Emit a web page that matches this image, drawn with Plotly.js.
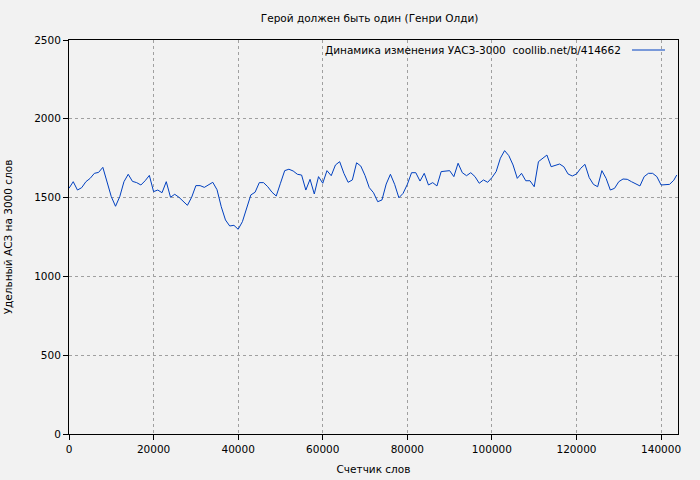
<!DOCTYPE html>
<html>
<head>
<meta charset="utf-8">
<script src="https://cdn.plot.ly/plotly-3.0.1.min.js"></script>
<style>html,body{margin:0;padding:0;background:#f2f2f2;}#chart{width:700px;height:480px;}</style>
</head>
<body>
<div id="chart"></div>
<script>
const chartTitle = "Герой должен быть один (Генри Олди)";
const xTitle = "Счетчик слов";
const yTitle = "Удельный АСЗ на 3000 слов";
const seriesName = "Динамика изменения УАСЗ-3000  coollib.net/b/414662";

const words = [0,1000,2000,3000,4000,5000,6000,7000,8000,9000,
  10000,11000,12000,13000,14000,15000,16000,17000,18000,19000,
  20000,21000,22000,23000,24000,25000,26000,28000,29000,
  30000,31000,32000,33000,34000,35000,36000,37000,38000,39000,
  40000,41000,42000,43000,44000,45000,46000,47000,48000,49000,
  50000,51000,52000,53000,54000,55000,56000,57000,58000,59000,
  60000,61000,62000,63000,64000,65000,66000,67000,68000,69000,
  70000,71000,72000,73000,74000,75000,76000,77000,78000,79000,
  80000,81000,82000,83000,84000,85000,86000,87000,88000,89000,
  90000,91000,92000,93000,94000,95000,96000,97000,98000,99000,
  100000,101000,102000,103000,104000,105000,106000,107000,108000,109000,
  110000,111000,112000,113000,114000,115000,116000,117000,118000,119000,
  120000,121000,122000,123000,124000,125000,126000,127000,128000,129000,
  130000,131000,132000,133000,134000,135000,136000,137000,138000,139000,
  140000,141000,142000,143000,143700];

const uasz = [1559,1601,1548,1563,1601,1622,1654,1660,1692,1601,
  1506,1445,1506,1601,1648,1603,1595,1580,1607,1641,
  1538,1548,1531,1601,1502,1521,1502,1451,1502,
  1576,1576,1565,1580,1597,1550,1442,1358,1320,1324,
  1299,1347,1432,1517,1534,1595,1595,1569,1534,1510,
  1591,1671,1680,1669,1648,1643,1548,1616,1523,1633,
  1591,1671,1639,1707,1728,1654,1597,1612,1721,1700,
  1640,1563,1531,1474,1485,1586,1648,1584,1499,1527,
  1584,1658,1658,1605,1654,1580,1595,1574,1665,1669,
  1671,1633,1718,1658,1639,1658,1633,1591,1612,1597,
  1627,1665,1750,1798,1766,1707,1622,1654,1607,1607,
  1569,1728,1750,1770,1696,1703,1713,1696,1650,1637,
  1650,1686,1711,1627,1584,1569,1671,1622,1548,1559,
  1601,1618,1616,1601,1590,1574,1633,1654,1654,1633,
  1580,1580,1584,1610,1643];

const xTicks = [0,20000,40000,60000,80000,100000,120000,140000];
const yTicks = [0,500,1000,1500,2000,2500];

const font = {family: "DejaVu Sans", size: 10.5, color: "#000"};

const trace = {
  x: words, y: uasz, type: "scatter", mode: "lines",
  name: seriesName, line: {color: "#0040c0", width: 1}, showlegend: false
};

const axisCommon = {
  showline: true, linecolor: "#000", linewidth: 1, mirror: true,
  ticks: "outside", ticklen: 5, tickcolor: "#000", tickwidth: 1,
  showgrid: true, gridcolor: "#a0a0a0", gridwidth: 1, griddash: "3px,3px",
  zeroline: false, tickfont: font
};

const layout = {
  width: 700, height: 480,
  paper_bgcolor: "#f2f2f2", plot_bgcolor: "#f2f2f2",
  margin: {l: 69, r: 22, t: 40, b: 46},
  font: font,
  title: {text: chartTitle, font: font, x: 0.528, xanchor: "center", y: 0.962, yanchor: "middle"},
  xaxis: Object.assign({}, axisCommon, {
    range: [0, 144000], tickvals: xTicks, ticktext: xTicks.map(String),
    title: {text: xTitle, font: font, standoff: 12}
  }),
  yaxis: Object.assign({}, axisCommon, {
    range: [0, 2500], tickvals: yTicks, ticktext: yTicks.map(String),
    title: {text: yTitle, font: font, standoff: 19}
  }),
  annotations: [{
    xref: "paper", yref: "paper", x: (623 - 69) / 609, y: (434 - 50) / 394,
    xanchor: "right", yanchor: "middle", showarrow: false,
    text: seriesName, font: font
  }],
  shapes: [{
    type: "line", xref: "paper", yref: "paper",
    x0: (632 - 69) / 609, x1: (665 - 69) / 609,
    y0: (434 - 50) / 394, y1: (434 - 50) / 394,
    line: {color: "#0040c0", width: 1}
  }]
};

Plotly.newPlot("chart", [trace], layout, {displayModeBar: false, staticPlot: true});
</script>
</body>
</html>
